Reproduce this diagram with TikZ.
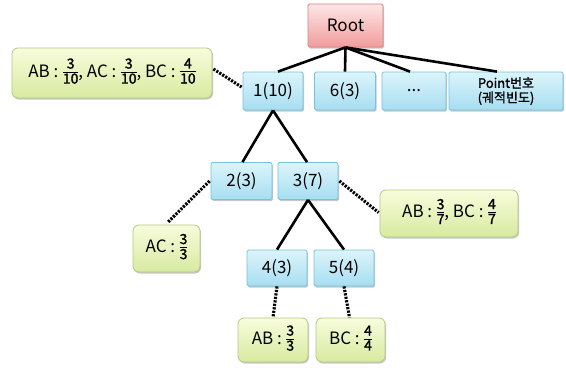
\documentclass[tikz,border=0pt]{standalone}
\usepackage{fontspec}
\setmainfont[AutoFakeBold=1.5]{Noto Sans CJK KR}
\usetikzlibrary{shadows,calc}

\definecolor{bluetop}{HTML}{DCF4FB}
\definecolor{bluebot}{HTML}{A6DEF1}
\definecolor{blueline}{HTML}{78C2DE}
\definecolor{greentop}{HTML}{F8FCDC}
\definecolor{greenbot}{HTML}{D8EAA0}
\definecolor{greenline}{HTML}{B4C985}
\definecolor{redtop}{HTML}{FDE6E6}
\definecolor{redbot}{HTML}{F29C9C}
\definecolor{redline}{HTML}{D98282}

% stacked fraction set in the text font, centred on the line
\newcommand\fr[2]{\hspace{4.5pt}$\vcenter{\hbox{\fontsize{14}{14}\selectfont\bfseries
  \setlength\tabcolsep{0pt}\renewcommand\arraystretch{0.95}%
  \begin{tabular}{c}#1\\[-1pt]\hline\noalign{\vskip1.5pt}#2\end{tabular}}}$}

\tikzset{
  boxbase/.style={draw, line width=0.8pt, inner sep=0pt, align=center,
    font=\fontsize{17}{19}\selectfont,
    drop shadow={shadow xshift=1pt, shadow yshift=-1.5pt, opacity=0.22, fill=black}},
  treenode/.style={boxbase, draw=blueline, top color=bluetop, bottom color=bluebot,
    rounded corners=1.5pt, minimum height=38pt},
  rootnode/.style={boxbase, draw=redline, top color=redtop, bottom color=redbot,
    rounded corners=1.5pt, minimum width=75pt, minimum height=43pt},
  probbox/.style={boxbase, draw=greenline, top color=greentop, bottom color=greenbot,
    rounded corners=6pt},
  edge/.style={line width=2.6pt, black},
  dotlink/.style={line width=3.1pt, black, dash pattern=on 2.2pt off 1.3pt}
}

\begin{document}
\begin{tikzpicture}[x=1pt, y=-1pt]
\useasboundingbox[fill=white] (0,0) rectangle (566,370);

% tree nodes
\node[rootnode] (root) at (345.5,25.5) {Root};
\node[treenode, minimum width=60pt] (n1) at (273,91) {1(10)};
\node[treenode, minimum width=61pt] (n6) at (345,91) {6(3)};
\node[treenode, minimum width=64pt] (ndots) at (414,91) {...};
\node[treenode, minimum width=114pt, font=\fontsize{13}{14.5}\selectfont\bfseries] (npt) at (506,91)
  {Point번호\\[0pt](궤적빈도)};
\node[treenode, minimum width=61pt, minimum height=37pt] (n2) at (241.5,181) {2(3)};
\node[treenode, minimum width=60pt, minimum height=37pt] (n3) at (308,181) {3(7)};
\node[treenode, minimum width=60pt, minimum height=36pt] (n4) at (277,268) {4(3)};
\node[treenode, minimum width=60pt, minimum height=36pt] (n5) at (344,268) {5(4)};

% ratio boxes
\node[probbox, minimum width=200pt, minimum height=50pt] (g1) at (112,73)
  {AB :\fr{3}{10}, AC :\fr{3}{10}, BC :\fr{4}{10}};
\node[probbox, minimum width=67pt, minimum height=47pt] (gac) at (166.5,248.5)
  {AC :\fr{3}{3}};
\node[probbox, minimum width=138pt, minimum height=47pt] (g37) at (449,213.5)
  {AB :\fr{3}{7}, BC :\fr{4}{7}};
\node[probbox, minimum width=70pt, minimum height=44pt] (gab) at (273,340)
  {AB :\fr{3}{3}};
\node[probbox, minimum width=69pt, minimum height=44pt] (gbc) at (350.5,340)
  {BC :\fr{4}{4}};

% solid tree edges
\coordinate (rs) at (root.south);
\draw[edge] (rs) -- ($(n1.north)+(5,0)$);
\draw[edge] (rs) -- (n6.north);
\draw[edge] (rs) -- ($(ndots.north)+(-4,0)$);
\draw[edge] (rs) -- ($(npt.north)+(-9,0)$);
\draw[edge] (n1.south) -- ($(n2.north)+(1,0)$);
\draw[edge] (n1.south) -- ($(n3.north)+(-1,0)$);
\draw[edge] (n3.south) -- (n4.north);
\draw[edge] (n3.south) -- (n5.north);

% dotted links to the ratio boxes
\draw[dotlink] ($(g1.east)+(1,-4)$) -- ($(n1.west)+(-1,-4)$);
\draw[dotlink] ($(n2.west)+(-1,0)$) -- ($(gac.north)+(1,-2)$);
\draw[dotlink] ($(n3.east)+(1,0)$) -- ($(g37.west)+(-1,-1)$);
\draw[dotlink] (n4.south) -- (gab.north);
\draw[dotlink] (n5.south) -- ($(gbc.north)+(-1,0)$);
\end{tikzpicture}
\end{document}
